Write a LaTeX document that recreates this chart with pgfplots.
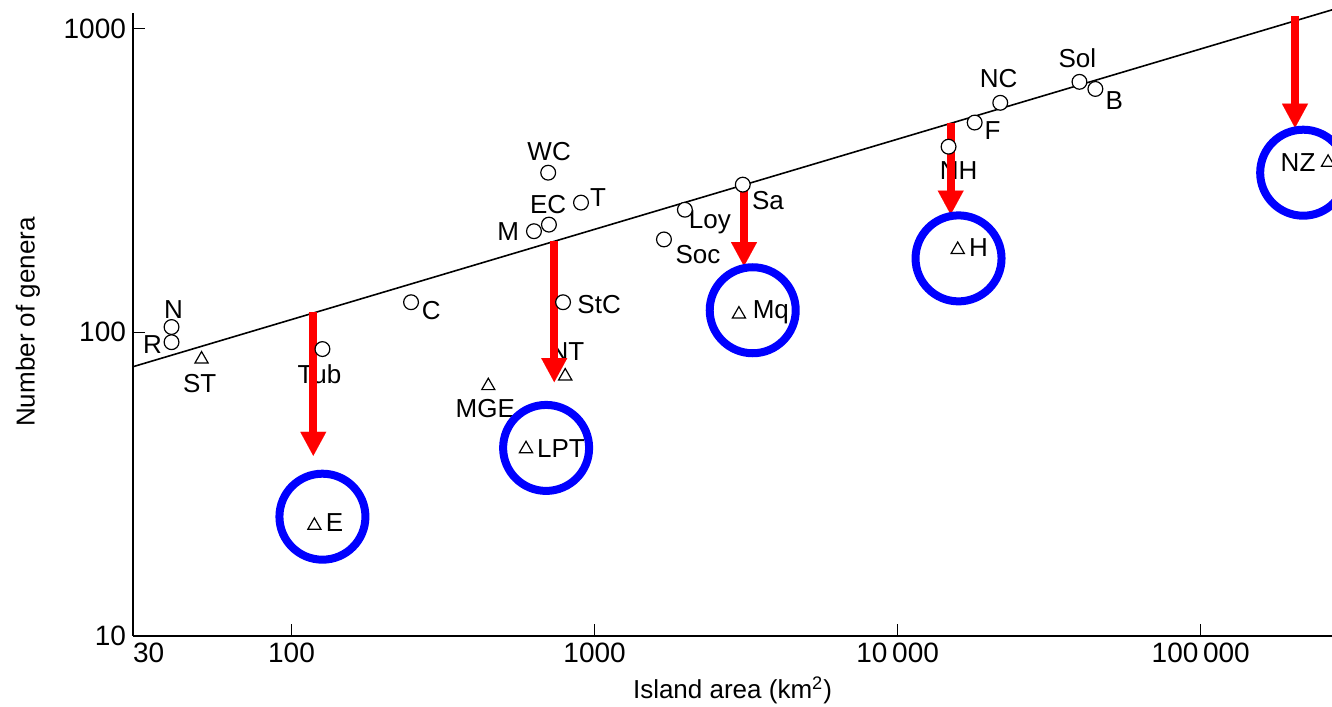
\documentclass[border=0pt]{standalone}
\usepackage{fontspec}
\setmainfont{Liberation Sans}
\usepackage{pgfplots}
\pgfplotsset{compat=1.18}
\usetikzlibrary{arrows.meta}
\definecolor{cred}{RGB}{255,0,0}
\definecolor{cblue}{RGB}{0,0,255}
\newcommand{\lab}{\fontsize{13}{15}\selectfont}
\begin{document}
\begin{tikzpicture}
\begin{axis}[
  scale only axis,
  width=599.5pt, height=311.5pt,
  xmode=log, ymode=log,
  xmin=30, xmax=271000, ymin=10, ymax=1124,
  axis lines*=left,
  axis line style={line width=1.1pt},
  tick align=inside,
  major tick length=6pt,
  minor tick length=0pt,
  xtick={30,100,1000,10000,100000},
  xticklabels={\makebox[0pt][l]{30},100,1000,10\,000,100\,000},
  ytick={10,100,1000},
  yticklabels={10,100,1000},
  tick style={black, line width=0.6pt},
  ticklabel style={font=\fontsize{14}{16}\selectfont},
  clip=false,
  xlabel={Island area (km\textsuperscript{2})},
  ylabel={Number of genera},
  xlabel style={at={(axis description cs:0.5,-0.0867)}, anchor=center, font=\lab},
  ylabel style={at={(axis description cs:-0.0876,0.504)}, anchor=center, font=\lab},
]
% regression line
\addplot[black, line width=0.8pt] coordinates {(30,77.0) (271000,1151)};
% open circles
\addplot[only marks, mark=*, mark size=3.7pt, mark options={fill=white, draw=black, line width=0.6pt}] coordinates {
 (40.2,104) (40.2,92.7) (126.5,88) (248,125.5) (703,335) (707,226) (631,215)
 (902,267) (787,125.5) (1694,202) (1986,253) (3083,306) (14720,408) (17950,490)
 (21800,569) (39800,667) (44900,632)};
% triangles
\addplot[only marks, mark=triangle, mark size=3.8pt, mark options={draw=black, line width=0.6pt}] coordinates {
 (50.5,81.5) (119,23.1) (800,71.7) (446,66.6) (594,41.3) (2994,114.6) (15780,187) (263000,362)};
% labels
\node[font=\lab] at (axis cs:40.8,119) {N};
\node[font=\lab] at (axis cs:34.8,91.3) {R};
\node[font=\lab] at (axis cs:49.8,68.0) {ST};
\node[font=\lab] at (axis cs:123.7,72.8) {Tub};
\node[font=\lab] at (axis cs:138.6,23.6) {E};
\node[font=\lab] at (axis cs:289,118) {C};
\node[font=\lab] at (axis cs:708,393) {WC};
\node[font=\lab] at (axis cs:703,263) {EC};
\node[font=\lab] at (axis cs:519,215) {M};
\node[font=\lab] at (axis cs:1027,277) {T};
\node[font=\lab] at (axis cs:1035,123.6) {StC};
\node[font=\lab] at (axis cs:811,86.6) {NT};
\node[font=\lab] at (axis cs:436,55.9) {MGE};
\node[font=\lab] at (axis cs:775,41.3) {LPT};
\node[font=\lab] at (axis cs:2193,180) {Soc};
\node[font=\lab] at (axis cs:2402,230) {Loy};
\node[font=\lab] at (axis cs:3733,271) {Sa};
\node[font=\lab] at (axis cs:3815,116.3) {Mq};
\node[font=\lab] at (axis cs:15880,340) {NH};
\node[font=\lab] at (axis cs:20560,460) {F};
\node[font=\lab] at (axis cs:21530,682) {NC};
\node[font=\lab] at (axis cs:39170,800) {Sol};
\node[font=\lab] at (axis cs:51850,578) {B};
\node[font=\lab] at (axis cs:18490,190) {H};
\node[font=\lab] at (axis cs:209400,362) {NZ};
% blue circles
\addplot[only marks, mark=o, mark size=21.5pt, mark options={draw=cblue, line width=4pt}] coordinates {
 (126.5,24.7) (692,41.6) (3325,118.1) (15880,175) (217700,335)};
% red arrows
\addplot[cred, line width=4pt, -{Triangle[width=13pt,length=12pt,line width=0.01pt]}] coordinates {(118,116.3) (118,39.2)};
\addplot[cred, line width=4pt, -{Triangle[width=13pt,length=12pt,line width=0.01pt]}] coordinates {(736,199) (736,68.5)};
\addplot[cred, line width=4pt, -{Triangle[width=13pt,length=12pt,line width=0.01pt]}] coordinates {(3112,313) (3112,165)};
\addplot[cred, line width=4pt, -{Triangle[width=13pt,length=12pt,line width=0.01pt]}] coordinates {(14960,490) (14960,244)};
\addplot[cred, line width=4pt, -{Triangle[width=13pt,length=12pt,line width=0.01pt]}] coordinates {(204600,1099) (204600,471)};
\end{axis}
\pgfresetboundingbox
\path[use as bounding box] ([xshift=-66.5pt,yshift=-35.5pt]current axis.south west) rectangle ([yshift=6.5pt]current axis.north east);
\end{tikzpicture}
\end{document}
